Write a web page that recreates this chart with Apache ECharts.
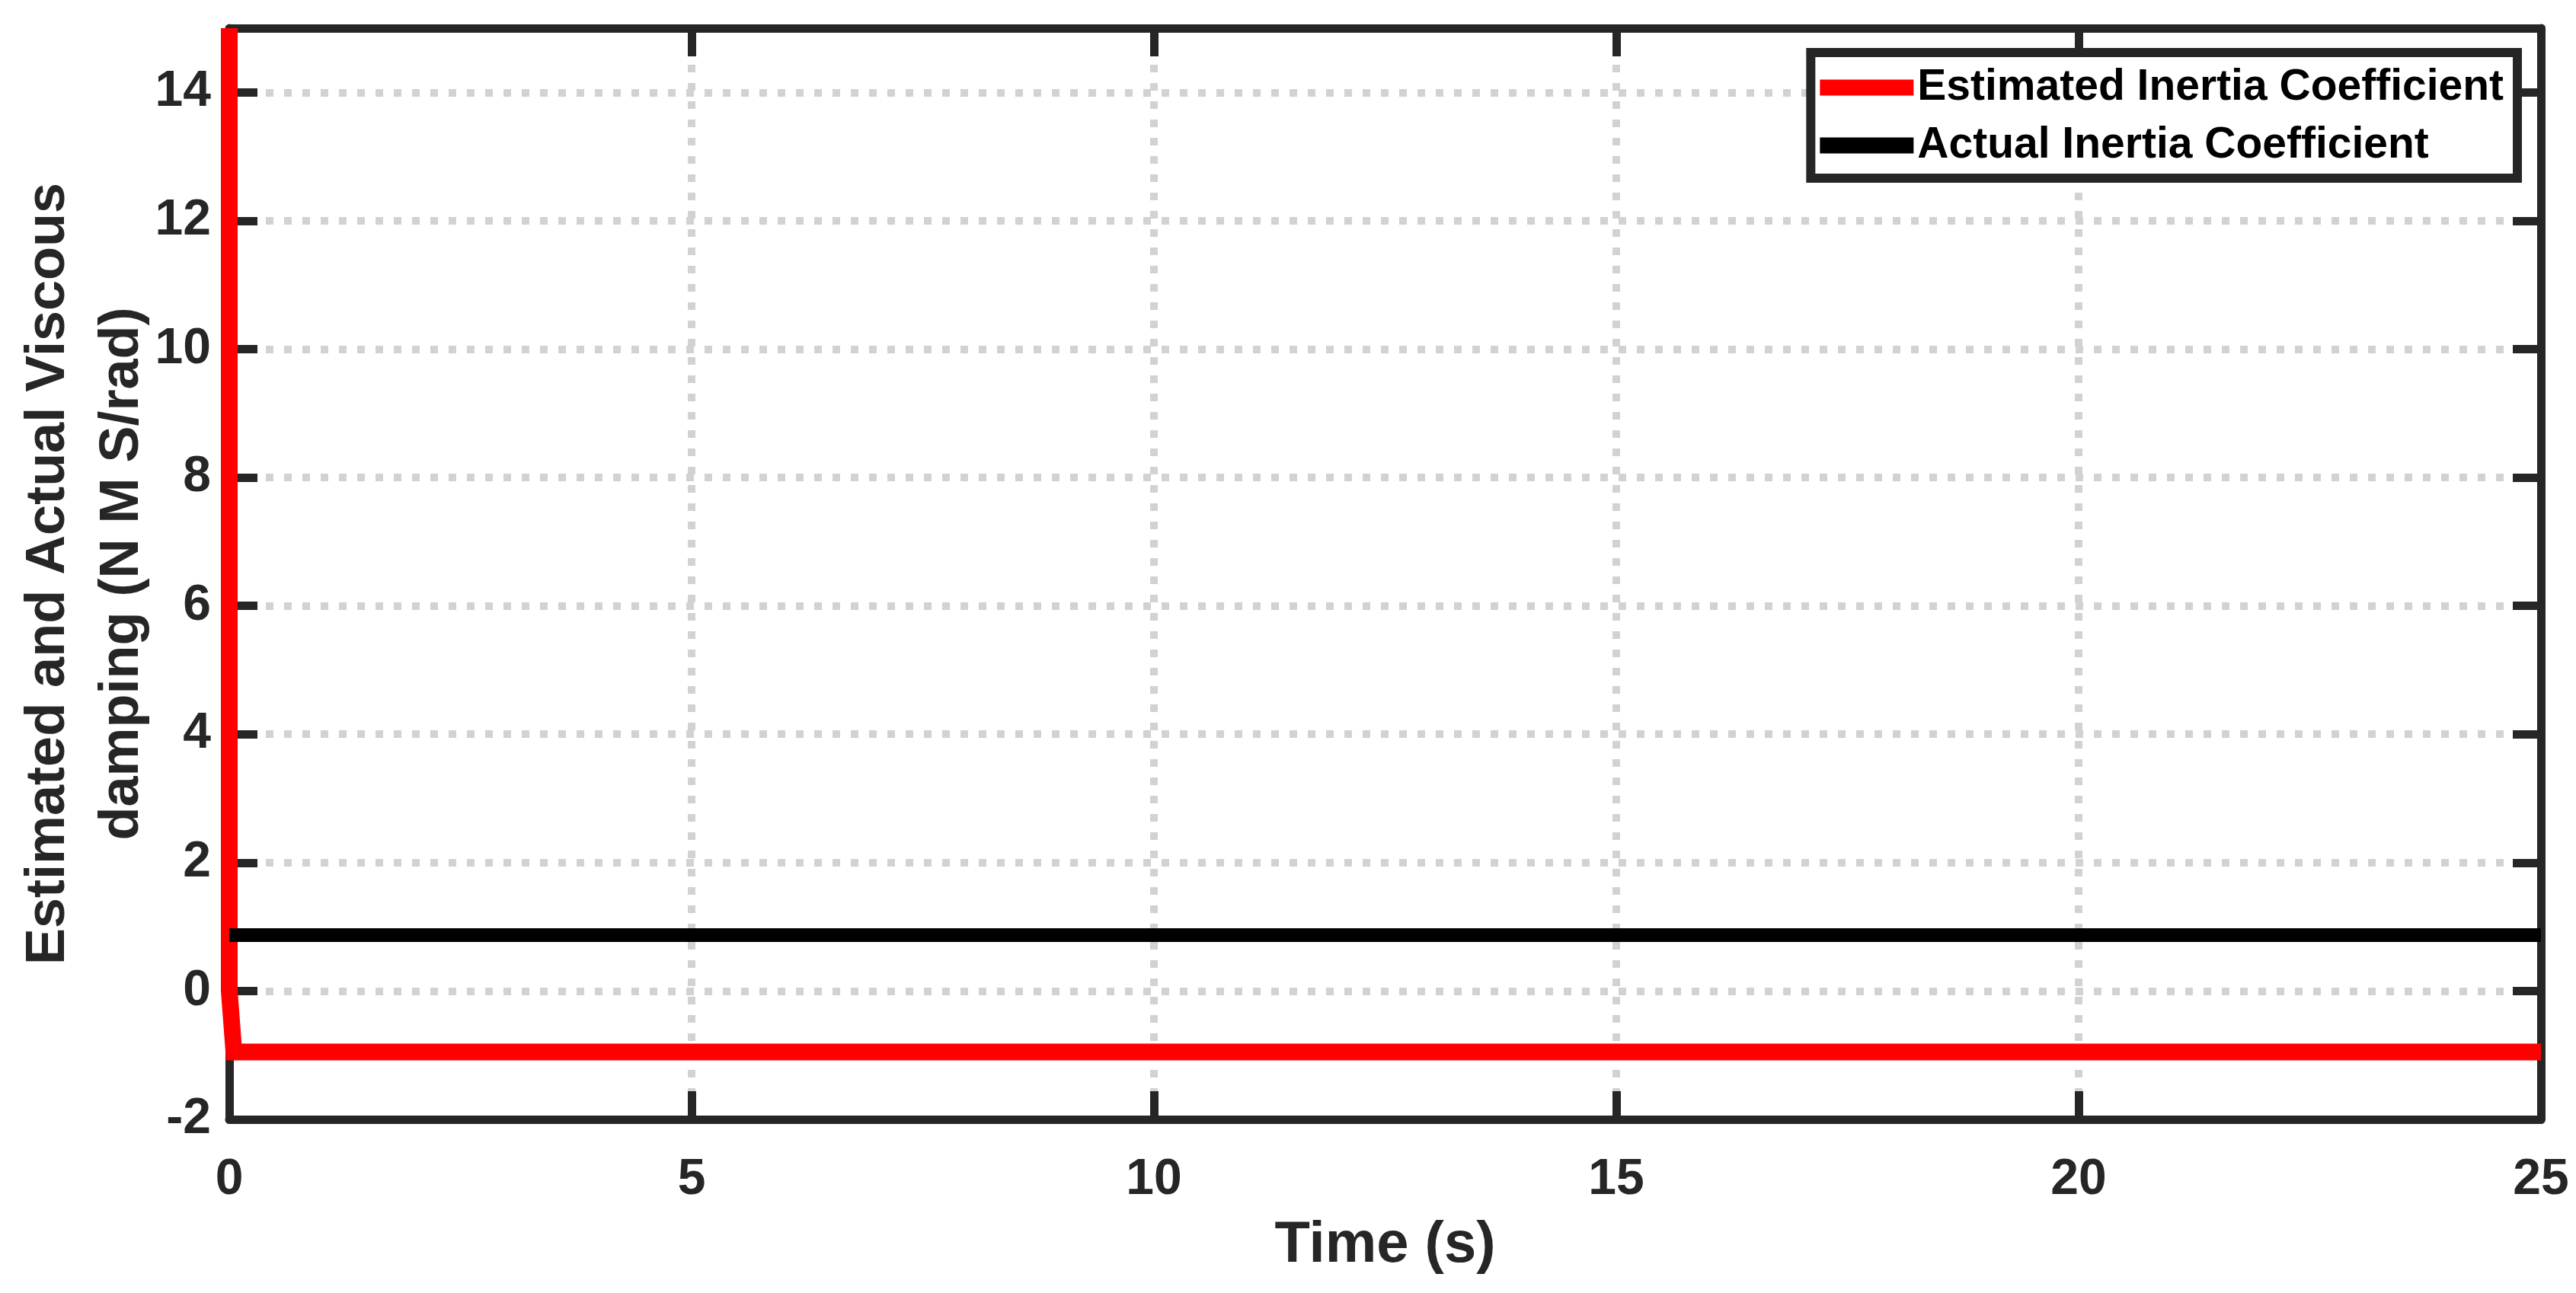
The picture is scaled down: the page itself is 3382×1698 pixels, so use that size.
<!DOCTYPE html>
<html>
<head>
<meta charset="utf-8">
<title>Estimated and Actual Viscous damping</title>
<script src="https://cdn.jsdelivr.net/npm/echarts@6/dist/echarts.min.js"></script>
<style>
  html, body { margin: 0; padding: 0; background: #fff; }
  #chart { width: 3382px; height: 1698px; }
</style>
</head>
<body>
<div id="chart"></div>
<script>
// data
var seriesNames = ['Estimated Inertia Coefficient', 'Actual Inertia Coefficient'];
var estimatedTime = [0, 0, 0.05, 25];
var estimatedValue = [15, 0, -0.95, -0.95];
var actualTime = [0, 25];
var actualValue = [0.87, 0.87];

// axis ranges
var xRange = [0, 25, 5];   // min, max, interval
var yRange = [-2, 15, 2];

var FONT = '"Liberation Sans", Arial, Helvetica, sans-serif';
var INK = '#262626';

function pairs(xs, ys) {
  var res = [];
  for (var i = 0; i < xs.length; i++) res.push([xs[i], ys[i]]);
  return res;
}

var chart = echarts.init(document.getElementById('chart'));

var frameLine = { show: true, onZero: false, lineStyle: { color: INK, width: 11 } };
var tickIn = { show: true, inside: true, length: 37, lineStyle: { color: INK, width: 11 } };
var gridDots = { show: true, lineStyle: { color: '#d2d2d2', width: 10, type: [10, 14] } };

var option = {
  animation: false,
  backgroundColor: '#ffffff',
  grid: { left: 301, right: 46, top: 37, bottom: 228, containLabel: false, outerBoundsMode: 'none' },
  legend: {
    orient: 'vertical',
    right: 77,
    top: 69,
    padding: [16, 18, 13, 12],
    itemGap: 16,
    itemWidth: 123,
    itemHeight: 21,
    icon: 'rect',
    backgroundColor: '#ffffff',
    borderColor: INK,
    borderWidth: 12,
    textStyle: { fontFamily: FONT, fontWeight: 'bold', fontSize: 57, lineHeight: 60, color: '#000' },
    data: seriesNames
  },
  xAxis: [{
    type: 'value', position: 'bottom',
    min: xRange[0], max: xRange[1], interval: xRange[2],
    name: 'Time (s)', nameLocation: 'middle', nameGap: 128, nameMoveOverlap: false,
    nameTextStyle: { fontFamily: FONT, fontWeight: 'bold', fontSize: 76, color: INK },
    axisLine: frameLine, axisTick: tickIn,
    axisLabel: { fontFamily: FONT, fontWeight: 'bold', fontSize: 66, color: INK, margin: 47 },
    splitLine: gridDots
  }, {
    type: 'value', position: 'top',
    min: xRange[0], max: xRange[1], interval: xRange[2],
    axisLine: frameLine, axisTick: tickIn,
    axisLabel: { show: false }, splitLine: { show: false }
  }],
  yAxis: [{
    type: 'value', position: 'left',
    min: yRange[0], max: yRange[1], interval: yRange[2],
    name: 'Estimated and Actual Viscous\ndamping (N M S/rad)',
    nameLocation: 'middle', nameRotate: 90, nameGap: 91, nameMoveOverlap: false,
    nameTextStyle: { fontFamily: FONT, fontWeight: 'bold', fontSize: 72, lineHeight: 97, color: INK },
    axisLine: frameLine, axisTick: tickIn,
    axisLabel: { fontFamily: FONT, fontWeight: 'bold', fontSize: 66, color: INK, margin: 24, showMaxLabel: false },
    splitLine: gridDots
  }, {
    type: 'value', position: 'right',
    min: yRange[0], max: yRange[1], interval: yRange[2],
    axisLine: frameLine, axisTick: tickIn,
    axisLabel: { show: false }, splitLine: { show: false }
  }],
  series: [{
    name: seriesNames[0],
    type: 'line',
    data: pairs(estimatedTime, estimatedValue),
    showSymbol: false,
    clip: true,
    itemStyle: { color: '#ff0000' },
    lineStyle: { color: '#ff0000', width: 22, join: 'miter' }
  }, {
    name: seriesNames[1],
    type: 'line',
    data: pairs(actualTime, actualValue),
    showSymbol: false,
    clip: true,
    itemStyle: { color: '#000000' },
    lineStyle: { color: '#000000', width: 18 }
  }]
};

chart.setOption(option);
</script>
</body>
</html>
